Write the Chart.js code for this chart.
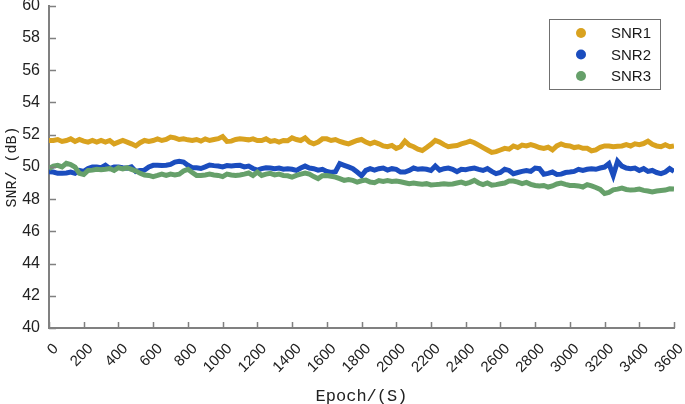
<!DOCTYPE html>
<html>
<head>
<meta charset="utf-8">
<script src="https://cdn.jsdelivr.net/npm/chart.js@4/dist/chart.umd.min.js"></script>
<style>
  html, body { margin: 0; padding: 0; background: #fff; }
  #wrap { width: 685px; height: 404px; overflow: hidden; position: relative; }
  #snr-chart { position: absolute; left: 0; top: -8px; }
</style>
</head>
<body>
<div id="wrap"><canvas id="snr-chart"></canvas></div>
<script>
// epoch (s), one reading every 25 s
const epochs = [
  0, 25, 50, 75, 100, 125, 150, 175,
  200, 225, 250, 275, 300, 325, 350, 375,
  400, 425, 450, 475, 500, 525, 550, 575,
  600, 625, 650, 675, 700, 725, 750, 775,
  800, 825, 850, 875, 900, 925, 950, 975,
  1000, 1025, 1050, 1075, 1100, 1125, 1150, 1175,
  1200, 1225, 1250, 1275, 1300, 1325, 1350, 1375,
  1400, 1425, 1450, 1475, 1500, 1525, 1550, 1575,
  1600, 1625, 1650, 1675, 1700, 1725, 1750, 1775,
  1800, 1825, 1850, 1875, 1900, 1925, 1950, 1975,
  2000, 2025, 2050, 2075, 2100, 2125, 2150, 2175,
  2200, 2225, 2250, 2275, 2300, 2325, 2350, 2375,
  2400, 2425, 2450, 2475, 2500, 2525, 2550, 2575,
  2600, 2625, 2650, 2675, 2700, 2725, 2750, 2775,
  2800, 2825, 2850, 2875, 2900, 2925, 2950, 2975,
  3000, 3025, 3050, 3075, 3100, 3125, 3150, 3175,
  3200, 3225, 3250, 3275, 3300, 3325, 3350, 3375,
  3400, 3425, 3450, 3475, 3500, 3525, 3550, 3575,
  3600];

const snr1 = [
  51.64, 51.64, 51.7, 51.58, 51.64, 51.74, 51.58, 51.7,
  51.6, 51.54, 51.64, 51.54, 51.64, 51.54, 51.64, 51.43,
  51.54, 51.64, 51.54, 51.43, 51.3, 51.5, 51.64, 51.58,
  51.64, 51.74, 51.64, 51.7, 51.85, 51.8, 51.7, 51.74,
  51.68, 51.64, 51.7, 51.6, 51.74, 51.64, 51.7, 51.75,
  51.88, 51.58, 51.6, 51.7, 51.74, 51.72, 51.68, 51.74,
  51.64, 51.64, 51.74, 51.58, 51.64, 51.54, 51.64, 51.62,
  51.8, 51.7, 51.64, 51.8, 51.54, 51.43, 51.54, 51.74,
  51.74, 51.64, 51.7, 51.58, 51.5, 51.43, 51.54, 51.64,
  51.7, 51.54, 51.43, 51.54, 51.43, 51.3, 51.25, 51.33,
  51.15, 51.25, 51.6, 51.35, 51.25, 51.1, 51.02, 51.2,
  51.4, 51.64, 51.54, 51.38, 51.25, 51.3, 51.33, 51.43,
  51.5, 51.6, 51.5, 51.35, 51.2, 51.05, 50.9, 50.95,
  51.05, 51.15, 51.1, 51.3, 51.2, 51.35, 51.3, 51.38,
  51.3, 51.2, 51.15, 51.22, 51.05, 51.3, 51.43, 51.33,
  51.3, 51.2, 51.25, 51.15, 51.15, 51.0, 51.05, 51.22,
  51.3, 51.3, 51.25, 51.28, 51.3, 51.38, 51.3, 51.43,
  51.38, 51.45, 51.6, 51.4, 51.3, 51.25, 51.38, 51.25,
  51.3];

const snr2 = [
  49.7, 49.68, 49.6, 49.6, 49.62, 49.68, 49.6, 49.78,
  49.72, 49.9, 49.99, 50.0, 49.95, 50.1, 49.9, 50.0,
  49.99, 49.95, 49.92, 50.0, 49.72, 49.78, 49.8, 50.0,
  50.1, 50.1, 50.08, 50.1, 50.15, 50.3, 50.35, 50.3,
  50.1, 49.95, 49.95, 49.9, 50.0, 50.12, 50.08, 50.05,
  50.0, 50.08, 50.05, 50.08, 50.1, 50.0, 50.05, 49.9,
  49.8, 49.89, 49.95, 49.93, 49.89, 49.93, 49.86, 49.89,
  49.85, 49.78, 49.93, 50.05, 49.93, 49.89, 49.8, 49.85,
  49.72, 49.65, 49.7, 50.2, 50.1, 50.0, 49.89, 49.68,
  49.45, 49.78, 49.89, 49.8, 49.89, 49.93, 49.8, 49.89,
  49.85, 49.68, 49.68, 49.78, 49.93, 49.85, 49.89, 49.85,
  49.78, 50.05, 49.8, 49.89, 49.93, 49.85, 49.7, 49.85,
  49.83, 49.89, 49.93, 49.85, 49.78, 49.89, 49.72, 49.58,
  49.65, 49.85, 49.78, 49.58, 49.65, 49.72, 49.78, 49.72,
  49.93, 49.89, 49.55, 49.6, 49.68, 49.53, 49.55, 49.65,
  49.68, 49.72, 49.85, 49.78, 49.85, 49.89, 49.85, 49.93,
  49.99, 50.2, 49.47, 50.35, 50.05, 49.93, 49.89, 49.93,
  49.78, 49.89, 49.72, 49.78, 49.65, 49.58, 49.68, 49.89,
  49.72];

const snr3 = [
  49.89, 50.05, 50.1, 50.0, 50.22, 50.15, 49.99, 49.6,
  49.53, 49.78, 49.8, 49.85, 49.82, 49.85, 49.9, 49.78,
  49.95, 49.88, 49.95, 49.85, 49.75, 49.6, 49.5, 49.47,
  49.4, 49.47, 49.55, 49.47, 49.55, 49.5, 49.55, 49.75,
  49.85, 49.65, 49.47, 49.47, 49.5, 49.55, 49.5, 49.47,
  49.4, 49.55, 49.5, 49.47, 49.5, 49.55, 49.62, 49.47,
  49.68, 49.47, 49.55, 49.6, 49.5, 49.55, 49.47, 49.45,
  49.37, 49.47, 49.55, 49.62, 49.55, 49.4, 49.27, 49.45,
  49.47, 49.42, 49.37, 49.27, 49.16, 49.22, 49.16, 49.06,
  49.14, 49.18, 49.06, 49.02, 49.15, 49.1, 49.15, 49.1,
  49.12, 49.08, 49.02, 48.96, 49.0, 48.96, 48.92, 48.96,
  48.88, 48.9, 48.92, 48.96, 48.92, 48.94, 49.0, 49.06,
  48.96, 49.04, 49.16, 49.0, 48.9, 49.0, 48.87, 48.9,
  48.95, 49.0, 49.12, 49.12, 49.06, 48.96, 49.04, 48.92,
  48.85, 48.82, 48.85, 48.75, 48.82, 48.94, 49.0, 48.92,
  48.85, 48.85, 48.82, 48.75, 48.9, 48.82, 48.72, 48.6,
  48.35, 48.42, 48.58, 48.62, 48.68, 48.6, 48.56, 48.58,
  48.62, 48.54, 48.5, 48.44, 48.5, 48.54, 48.56, 48.64,
  48.62];

const seriesNames = ["SNR1", "SNR2", "SNR3"];
const seriesColors = ["#D9A21F", "#1B4DBE", "#66A06A"];
const xTicks = [0, 200, 400, 600, 800, 1000, 1200, 1400, 1600, 1800, 2000, 2200, 2400, 2600, 2800, 3000, 3200, 3400, 3600];
const yTicks = [40, 42, 44, 46, 48, 50, 52, 54, 56, 58, 60];

function toPoints(values) {
  return values.map((v, i) => ({ x: epochs[i], y: v }));
}

const axisGray = "#808080";

// inward tick marks + boxed legend inside the plot
const extras = {
  id: "extras",
  afterDraw(chart) {
    const ctx = chart.ctx;
    const area = chart.chartArea;
    const xs = chart.scales.x;
    const ys = chart.scales.y;
    ctx.save();
    ctx.strokeStyle = axisGray;
    ctx.lineWidth = 1.5;
    ctx.beginPath();
    for (const t of xTicks) {
      const px = Math.round(xs.getPixelForValue(t)) + 0.5;
      ctx.moveTo(px, area.bottom);
      ctx.lineTo(px, area.bottom - 6);
    }
    for (const t of yTicks) {
      const py = Math.round(ys.getPixelForValue(t)) + 0.5;
      ctx.moveTo(area.left, py);
      ctx.lineTo(area.left + 7, py);
    }
    ctx.stroke();

    // legend (canvas sits 8px higher than the page, so add it back)
    const lx = 549, ly = 19 + 8, lw = 111, lh = 70;
    ctx.fillStyle = "#fff";
    ctx.fillRect(lx, ly, lw, lh);
    ctx.strokeStyle = "#707070";
    ctx.lineWidth = 1;
    ctx.strokeRect(lx + 0.5, ly + 0.5, lw, lh);
    ctx.font = "15px 'Liberation Sans', Arial, sans-serif";
    ctx.textBaseline = "middle";
    ctx.textAlign = "left";
    chart.data.datasets.forEach((ds, i) => {
      const cy = ly + 14 + i * 21.5;
      ctx.fillStyle = ds.borderColor;
      ctx.beginPath();
      ctx.arc(581, cy, 5, 0, Math.PI * 2);
      ctx.fill();
      ctx.fillStyle = "#1a1a1a";
      ctx.fillText(ds.label, 611, cy + 1);
    });
    ctx.restore();
  }
};

const data = {
  datasets: [snr1, snr2, snr3].map((vals, i) => ({
    label: seriesNames[i],
    data: toPoints(vals),
    borderColor: seriesColors[i],
    backgroundColor: seriesColors[i],
    borderWidth: 5,
    pointRadius: 0,
    tension: 0,
    order: 3 - i,
  })),
};

const config = {
  type: "line",
  data: data,
  options: {
    responsive: false,
    animation: false,
    layout: { padding: { top: 0, right: 11, left: 0, bottom: 0 } },
    plugins: { legend: { display: false }, tooltip: { enabled: false } },
    scales: {
      x: {
        type: "linear",
        min: 0,
        max: 3600,
        afterBuildTicks: (scale) => { scale.ticks = xTicks.map((v) => ({ value: v })); },
        afterFit: (scale) => {
          scale.height = 76;
          scale.paddingLeft = 0;
          scale.paddingRight = 0;
        },
        grid: { display: false, drawTicks: false },
        border: { display: true, color: axisGray, width: 2 },
        ticks: {
          autoSkip: false,
          maxRotation: 45,
          minRotation: 45,
          padding: 12,
          labelOffset: 7,
          color: "#222",
          callback: (v) => String(v),
          font: { family: "'Liberation Sans', Arial, sans-serif", size: 15 },
        },
        title: {
          display: true,
          text: "Epoch/(S)",
          color: "#222",
          padding: { top: 0, bottom: -3 },
          font: { family: "'Liberation Mono', 'Courier New', monospace", size: 17 },
        },
      },
      y: {
        min: 40,
        max: 60,
        afterBuildTicks: (scale) => { scale.ticks = yTicks.map((v) => ({ value: v })); },
        afterFit: (scale) => { scale.width = 49; },
        grid: { display: false, drawTicks: false },
        border: { display: true, color: axisGray, width: 2 },
        ticks: {
          padding: 9,
          color: "#222",
          font: { family: "'Liberation Sans', Arial, sans-serif", size: 16, lineHeight: 0.6 },
        },
        title: {
          display: true,
          text: "SNR/ (dB)",
          color: "#222",
          padding: { top: 3, bottom: 4 },
          font: { family: "'Liberation Mono', 'Courier New', monospace", size: 15 },
        },
      },
    },
  },
  plugins: [extras],
};

const canvas = document.getElementById("snr-chart");
canvas.width = 685;
canvas.height = 412;
new Chart(canvas, config);
</script>
</body>
</html>
